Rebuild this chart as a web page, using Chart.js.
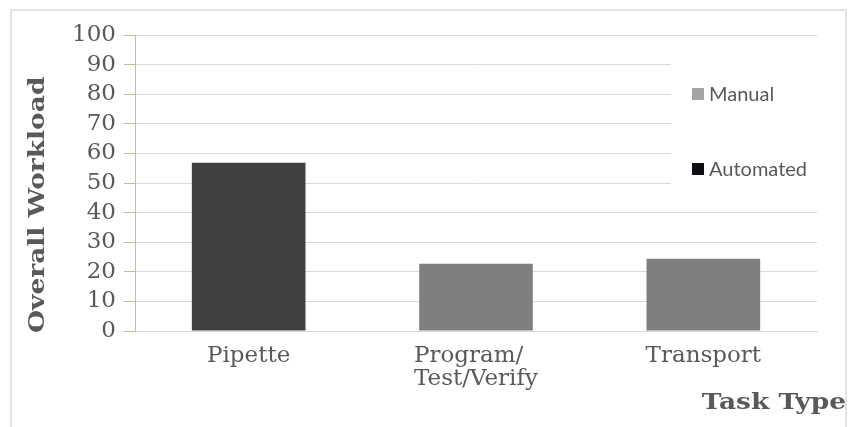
<!DOCTYPE html>
<html>
<head>
<meta charset="utf-8">
<script src="https://cdn.jsdelivr.net/npm/chart.js@4/dist/chart.umd.min.js"></script>
<style>
  html, body { margin: 0; padding: 0; background: #fff; }
  #wrap { width: 849px; height: 427px; }
</style>
</head>
<body>
<div id="wrap"><canvas id="chart" width="849" height="427"></canvas></div>
<script>
// Task categories (multi-line labels) and workload scores per series
const taskTypes = [['Pipette'], ['Program/  ', 'Test/Verify'], ['Transport']];
const manualWorkload = [null, 22.7, 24.4];
const automatedWorkload = [56.8, null, null];
const seriesNames = ['Manual', 'Automated'];
const yTickValues = [0, 10, 20, 30, 40, 50, 60, 70, 80, 90, 100];
const yAxisTitle = 'Overall Workload';
const xAxisTitle = 'Task Type';

const SERIF = "'DejaVu Serif', serif";
const TEXT = '#595959';
const GRID = '#d9d9d9';
const AXIS = '#c4bd97';
const TITLE_STRETCH = 1.15; // wide bold face for the axis titles

// White page, light frame around the chart
const framePlugin = {
  id: 'frame',
  beforeDraw(chart) {
    const ctx = chart.ctx;
    ctx.save();
    ctx.fillStyle = '#fff';
    ctx.fillRect(0, 0, chart.width, chart.height);
    ctx.strokeStyle = GRID;
    ctx.lineWidth = 1.5;
    ctx.beginPath();
    ctx.moveTo(11, chart.height);
    ctx.lineTo(11, 10);
    ctx.lineTo(846, 10);
    ctx.lineTo(846, chart.height);
    ctx.stroke();
    ctx.restore();
  }
};

// Legend panel drawn on top of the plot, hiding the gridlines behind it
const legendSwatches = ['#a6a3a3', '#0d0f12'];
const legendPanel = {
  id: 'legendPanel',
  afterDatasetsDraw(chart) {
    const ctx = chart.ctx;
    const a = chart.chartArea;
    ctx.save();
    ctx.fillStyle = '#fff';
    ctx.fillRect(a.right - 146, 48, 146, 152);
    ctx.font = "20px Lato, 'Noto Sans', sans-serif";
    ctx.textBaseline = 'middle';
    ctx.textAlign = 'left';
    const rows = [94, 169];
    seriesNames.forEach((name, i) => {
      const y = rows[i];
      ctx.fillStyle = legendSwatches[i];
      ctx.fillRect(692, y - 6, 12, 12);
      ctx.fillStyle = TEXT;
      ctx.fillText(name, 709, y + 1);
    });
    ctx.restore();
  }
};

// Axis titles
const axisTitles = {
  id: 'axisTitles',
  afterDraw(chart) {
    const ctx = chart.ctx;
    const a = chart.chartArea;
    ctx.save();
    ctx.fillStyle = TEXT;
    ctx.font = 'bold 23px ' + SERIF;
    ctx.textBaseline = 'alphabetic';
    ctx.textAlign = 'left';
    ctx.translate(a.left - 91, a.bottom + 2);
    ctx.rotate(-Math.PI / 2);
    ctx.scale(TITLE_STRETCH, 1);
    ctx.fillText(yAxisTitle, 0, 0);
    ctx.restore();

    ctx.save();
    ctx.fillStyle = TEXT;
    ctx.font = 'bold 23px ' + SERIF;
    ctx.textAlign = 'right';
    ctx.textBaseline = 'alphabetic';
    ctx.translate(846, 409);
    ctx.scale(TITLE_STRETCH, 1);
    ctx.fillText(xAxisTitle, 0, 0);
    ctx.restore();
  }
};

new Chart(document.getElementById('chart'), {
  type: 'bar',
  data: {
    labels: taskTypes,
    datasets: [
      {
        label: seriesNames[0],
        data: manualWorkload,
        backgroundColor: '#7f7f7f',
        categoryPercentage: 1,
        barPercentage: 0.5
      },
      {
        label: seriesNames[1],
        data: automatedWorkload,
        backgroundColor: '#404040',
        categoryPercentage: 1,
        barPercentage: 0.5
      }
    ]
  },
  options: {
    responsive: false,
    devicePixelRatio: 1,
    animation: false,
    layout: { padding: { top: 35, right: 32, bottom: 0, left: 0 } },
    plugins: {
      legend: { display: false },
      tooltip: { enabled: false },
      title: { display: false }
    },
    scales: {
      x: {
        stacked: true,
        offset: true,
        grid: { display: false },
        border: { display: true, color: GRID, width: 1 },
        ticks: {
          color: TEXT,
          font: { family: SERIF, size: 23, lineHeight: 1.0 },
          padding: 6,
          maxRotation: 0,
          autoSkip: false
        },
        afterFit(scale) { scale.height = 96; }
      },
      y: {
        stacked: true,
        min: 0,
        max: 100,
        afterBuildTicks(scale) {
          scale.ticks = yTickValues.map(v => ({ value: v }));
        },
        grid: {
          color: GRID,
          lineWidth: 1,
          drawTicks: true,
          tickLength: 11,
          tickColor: AXIS
        },
        border: { display: true, color: AXIS, width: 1 },
        ticks: {
          color: TEXT,
          font: { family: SERIF, size: 23 },
          padding: 8,
          autoSkip: false
        },
        afterFit(scale) { scale.width = 135; }
      }
    }
  },
  plugins: [framePlugin, legendPanel, axisTitles]
});
</script>
</body>
</html>
